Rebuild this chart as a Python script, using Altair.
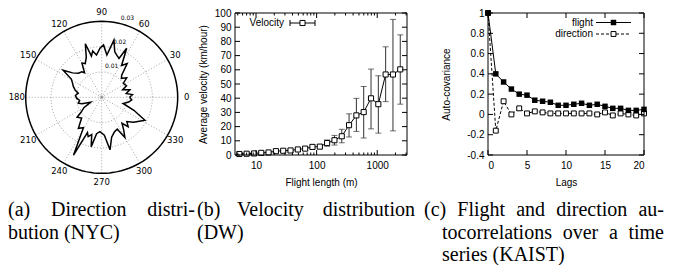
import altair as alt
import pandas as pd

# ---------------- (a) Direction distribution (NYC) ----------------
dir_angle = [0, 5, 9, 15, 20, 25, 33, 38, 44, 48, 53, 58, 63, 66, 70, 74, 78, 83, 88, 92,
             97, 101, 104, 107, 111, 116, 120, 125, 128, 134, 140, 145, 149, 154, 159, 165,
             170, 176, 182, 188, 194, 198, 204, 210, 216, 219, 226, 233, 239, 244, 248, 251,
             255, 258, 262, 267, 274, 279, 284, 290, 296, 300, 304, 308, 312, 316, 322, 332,
             338, 344, 350, 355]
dir_prob = [0.0110, 0.0122, 0.0098, 0.0115, 0.0088, 0.0108, 0.0102, 0.0125, 0.0108, 0.0118,
            0.0167, 0.0148, 0.0217, 0.0168, 0.0176, 0.0187, 0.0231, 0.0168, 0.0207, 0.0194,
            0.0168, 0.0186, 0.0168, 0.0221, 0.0170, 0.0148, 0.0156, 0.0118, 0.0128, 0.0132,
            0.0150, 0.0186, 0.0140, 0.0128, 0.0120, 0.0108, 0.0094, 0.0104, 0.0099, 0.0088,
            0.0095, 0.0082, 0.0048, 0.0080, 0.0101, 0.0125, 0.0114, 0.0153, 0.0140, 0.0254,
            0.0150, 0.0164, 0.0152, 0.0200, 0.0145, 0.0136, 0.0150, 0.0210, 0.0162, 0.0146,
            0.0140, 0.0183, 0.0155, 0.0130, 0.0156, 0.0138, 0.0160, 0.0193, 0.0137, 0.0088,
            0.0108, 0.0119]
angle_ticks = [0, 30, 60, 90, 120, 150, 180, 210, 240, 270, 300, 330]
radial_ticks = [0.01, 0.02, 0.03]

# ---------------- (b) Velocity distribution (DW) ----------------
flight_len = [5.3, 7.0, 9.3, 12.2, 16.1, 21.3, 28.1, 37.1, 49, 64.7, 85.4, 113, 149, 197,
              260, 343, 453, 598, 790, 1043, 1377, 1818, 2400]
velocity = [0.7, 0.9, 1.1, 1.5, 1.8, 2.7, 3.0, 3.2, 3.9, 4.5, 5.7, 5.9, 8.4, 10.4, 13.2,
            21.0, 27.9, 30.2, 39.9, 35.8, 56.7, 56.7, 60.3]
vel_lo = [0.3, 0.5, 0.6, 0.9, 1.1, 1.8, 2.0, 2.2, 2.7, 3.3, 4.4, 4.5, 6.2, 7.0, 8.6, 12.7,
          16.6, 12.0, 18.4, 15.4, 37.6, 17.0, 35.8]
vel_hi = [1.1, 1.3, 1.6, 2.1, 2.5, 3.6, 4.0, 4.2, 5.1, 5.7, 7.0, 7.3, 10.6, 13.8, 18.1, 29.0,
          39.9, 48.3, 60.5, 55.8, 76.2, 95.5, 84.6]
b_xmajor = [10, 100, 1000]
b_xminor = [5, 6, 7, 8, 9, 20, 30, 40, 50, 60, 70, 80, 90, 200, 300, 400, 500, 600, 700,
            800, 900, 2000, 3000]
b_yticks = [0, 10, 20, 30, 40, 50, 60, 70, 80, 90, 100]

# ---------------- (c) Autocovariance (KAIST) ----------------
lags = list(range(21))
flight_acov = [1.0, 0.40, 0.32, 0.25, 0.20, 0.19, 0.14, 0.13, 0.12, 0.09, 0.09, 0.10, 0.11,
               0.09, 0.10, 0.08, 0.06, 0.06, 0.04, 0.04, 0.05]
direction_acov = [1.0, -0.16, 0.13, 0.0, 0.06, 0.01, 0.03, 0.02, 0.01, 0.01, 0.01, 0.01,
                  0.01, 0.01, 0.0, 0.02, -0.01, 0.01, 0.0, -0.01, 0.01]
c_xticks = [0, 5, 10, 15, 20]
c_yticks = [-0.4, -0.2, 0, 0.2, 0.4, 0.6, 0.8, 1]

# ---------------- captions ----------------
cap_lines = [
    (["(a)", "Direction", "distri-"], 8, 195, 0),
    (["bution", "(NYC)"], 8, None, 1),
    (["(b)", "Velocity", "distribution"], 197, 415, 0),
    (["(DW)"], 197, None, 1),
    (["(c)", "Flight", "and", "direction", "au-"], 424, 664, 0),
    (["tocorrelations", "over", "a", "time"], 442, 664, 1),
    (["series", "(KAIST)"], 442, None, 2),
]

SANS = "Liberation Sans"
SERIF = "Liberation Serif"
MPL = "DejaVu Sans"
FS = 10
one = pd.DataFrame({"k": [0]})

# =============== panel (a): polar plot ===============
R = max(radial_ticks)
WA, HA = 186, 142
CX, CY = 93.7, 84.3
K = 76 / R
xa = alt.Scale(domain=[-CX / K, (WA - CX) / K], nice=False, zero=False)
ya = alt.Scale(domain=[-(HA - CY) / K, CY / K], nice=False, zero=False)


def XA(f):
    return alt.X(f, type="quantitative", scale=xa, axis=None)


def YA(f):
    return alt.Y(f, type="quantitative", scale=ya, axis=None)


spokes = alt.Chart(pd.DataFrame({"a": angle_ticks})).transform_calculate(
    px=f"{R}*cos(datum.a*PI/180)", py=f"{R}*sin(datum.a*PI/180)", ox="0", oy="0"
).mark_rule(color="#8a8a8a", strokeWidth=0.8, strokeDash=[1, 2]).encode(
    x=XA("ox"), y=YA("oy"), x2="px:Q", y2="py:Q")

grid_df = pd.DataFrame([(r, t) for r in radial_ticks for t in range(0, 361, 3)],
                       columns=["r", "t"])
grid_base = alt.Chart(grid_df).transform_calculate(
    px="datum.r*cos(datum.t*PI/180)", py="datum.r*sin(datum.t*PI/180)")
inner = grid_base.transform_filter(f"datum.r < {R}").mark_line(
    color="#8a8a8a", strokeWidth=0.8, strokeDash=[1, 2]).encode(
    x=XA("px"), y=YA("py"), detail="r:N", order="t:Q")
outer = grid_base.transform_filter(f"datum.r >= {R}").mark_line(
    color="black", strokeWidth=1.5).encode(x=XA("px"), y=YA("py"), order="t:Q")

dfa = pd.DataFrame({"ang": dir_angle + [dir_angle[0] + 360],
                    "p": dir_prob + [dir_prob[0]]})
shape = alt.Chart(dfa).transform_calculate(
    px="datum.p*cos(datum.ang*PI/180)", py="datum.p*sin(datum.ang*PI/180)"
).mark_line(color="black", strokeWidth=1.5).encode(x=XA("px"), y=YA("py"), order="ang:Q")

ang_lab = alt.Chart(pd.DataFrame({"a": angle_ticks})).transform_calculate(
    px=f"{R * 1.117}*cos(datum.a*PI/180)", py=f"{R * 1.117}*sin(datum.a*PI/180)"
).mark_text(font=MPL, fontSize=8.5, color="black").encode(
    x=XA("px"), y=YA("py"), text="a:Q")

rad_lab = alt.Chart(pd.DataFrame({"r": radial_ticks})).transform_calculate(
    px="(datum.r+0.0028)*cos(72*PI/180)", py="(datum.r+0.0028)*sin(72*PI/180)"
).mark_text(font=MPL, fontSize=6, color="black").encode(
    x=XA("px"), y=YA("py"), text=alt.Text("r:Q", format=".2f"))

center = alt.Chart(one).transform_calculate(ox="0", oy="0").mark_point(
    size=10, color="#8a8a8a", filled=False, strokeWidth=0.8).encode(x=XA("ox"), y=YA("oy"))

panel_a = alt.layer(spokes, inner, outer, shape, ang_lab, rad_lab, center).properties(
    width=WA, height=HA)

# =============== shared helpers for gnuplot-style frames ===============


def frame(W, H):
    return alt.Chart(one).mark_rect(fill="transparent", stroke="black", strokeWidth=1).encode(
        x=alt.value(0), x2=alt.value(W), y=alt.value(0), y2=alt.value(H))


def xtick_layers(vals, X, H, L):
    base = alt.Chart(pd.DataFrame({"t": vals})).mark_rule(color="black", strokeWidth=1)
    return [base.encode(x=X("t"), y=alt.value(H), y2=alt.value(H - L)),
            base.encode(x=X("t"), y=alt.value(0), y2=alt.value(L))]


def ytick_layers(vals, Y, W, L):
    base = alt.Chart(pd.DataFrame({"t": vals})).mark_rule(color="black", strokeWidth=1)
    return [base.encode(y=Y("t"), x=alt.value(0), x2=alt.value(L)),
            base.encode(y=Y("t"), x=alt.value(W), x2=alt.value(W - L))]


def axis(title, values, lp, tp, fmt=None, expr=None):
    kw = dict(values=values, title=title, ticks=False, tickSize=0, domain=False, grid=False,
              labelPadding=lp, titlePadding=tp, labelFont=SANS, labelFontSize=FS,
              titleFont=SANS, titleFontSize=FS, titleFontWeight="normal",
              labelColor="black", titleColor="black")
    if fmt:
        kw["format"] = fmt
    if expr:
        kw["labelExpr"] = expr
    return alt.Axis(**kw)


# =============== panel (b) ===============
WB, HB = 172, 142
xb = alt.Scale(type="log", domain=[4.5, 3100], nice=False)
yb = alt.Scale(domain=[0, 100], nice=False, zero=False)
axbx = axis("Flight length (m)", b_xmajor, 5, 7, fmt="d")
axby = axis("Average velocity (km/hour)", b_yticks, 4, 6)


def XB(f):
    return alt.X(f, type="quantitative", scale=xb, axis=axbx)


def YB(f):
    return alt.Y(f, type="quantitative", scale=yb, axis=axby)


dfb = pd.DataFrame({"len": flight_len, "v": velocity, "lo": vel_lo, "hi": vel_hi})
err = alt.Chart(dfb).mark_rule(color="#333333", strokeWidth=1).encode(
    x=XB("len"), y=YB("lo"), y2="hi:Q")
caps = alt.Chart(dfb).transform_fold(["lo", "hi"], as_=["end", "val"]).mark_tick(
    orient="horizontal", size=6, thickness=1, color="#333333").encode(x=XB("len"), y=YB("val"))
vline = alt.Chart(dfb).mark_line(color="black", strokeWidth=1).encode(x=XB("len"), y=YB("v"))
vpts = alt.Chart(dfb).mark_point(shape="square", size=26, filled=True, fill="white",
                                 stroke="black", strokeWidth=1, opacity=1).encode(
    x=XB("len"), y=YB("v"))

leg_b = [
    alt.Chart(one).mark_text(text="Velocity", align="right", baseline="middle", font=SANS,
                             fontSize=FS, color="black").encode(x=alt.value(49), y=alt.value(10)),
    alt.Chart(one).mark_rule(color="black").encode(x=alt.value(55), x2=alt.value(80), y=alt.value(10)),
    alt.Chart(one).mark_rule(color="black").encode(x=alt.value(55), y=alt.value(7), y2=alt.value(13)),
    alt.Chart(one).mark_rule(color="black").encode(x=alt.value(80), y=alt.value(7), y2=alt.value(13)),
    alt.Chart(one).mark_point(shape="square", size=26, filled=True, fill="white", stroke="black",
                              strokeWidth=1, opacity=1).encode(x=alt.value(67.5), y=alt.value(10)),
]

panel_b = alt.layer(
    err, caps, vline, vpts,
    *xtick_layers(b_xmajor, XB, HB, 5), *xtick_layers(b_xminor, XB, HB, 2.5),
    *ytick_layers(b_yticks, YB, WB, 5),
    frame(WB, HB), *leg_b
).properties(width=WB, height=HB)

# =============== panel (c) ===============
WC, HC = 156, 142
xc = alt.Scale(domain=[0, 20], nice=False, zero=False)
yc = alt.Scale(domain=[-0.4, 1], nice=False, zero=False)
axcx = axis("Lags", c_xticks, 5, 7)
axcy = axis("Auto-covariance", c_yticks, 4, 15, expr="'' + datum.value")


def XC(f):
    return alt.X(f, type="quantitative", scale=xc, axis=axcx)


def YC(f):
    return alt.Y(f, type="quantitative", scale=yc, axis=axcy)


dfc = pd.DataFrame({"lag": lags, "flight": flight_acov, "direction": direction_acov})
fl_line = alt.Chart(dfc).mark_line(color="black", strokeWidth=1).encode(x=XC("lag"), y=YC("flight"))
dr_line = alt.Chart(dfc).mark_line(color="black", strokeWidth=1, strokeDash=[3, 2]).encode(
    x=XC("lag"), y=YC("direction"))
fl_pts = alt.Chart(dfc).mark_point(shape="square", size=30, filled=True, color="black",
                                   opacity=1).encode(x=XC("lag"), y=YC("flight"))
dr_pts = alt.Chart(dfc).mark_point(shape="square", size=24, filled=True, fill="white",
                                   stroke="black", strokeWidth=1, opacity=1).encode(
    x=XC("lag"), y=YC("direction"))

leg_c = [
    alt.Chart(one).mark_text(text="flight", align="right", baseline="middle", font=SANS,
                             fontSize=FS, color="black").encode(x=alt.value(105), y=alt.value(9.5)),
    alt.Chart(one).mark_rule(color="black").encode(x=alt.value(108), x2=alt.value(143), y=alt.value(9.5)),
    alt.Chart(one).mark_point(shape="square", size=30, filled=True, color="black", opacity=1).encode(
        x=alt.value(125.5), y=alt.value(9.5)),
    alt.Chart(one).mark_text(text="direction", align="right", baseline="middle", font=SANS,
                             fontSize=FS, color="black").encode(x=alt.value(105), y=alt.value(21)),
    alt.Chart(one).mark_rule(color="black", strokeDash=[3, 2]).encode(
        x=alt.value(108), x2=alt.value(143), y=alt.value(21)),
    alt.Chart(one).mark_point(shape="square", size=24, filled=True, fill="white", stroke="black",
                              strokeWidth=1, opacity=1).encode(x=alt.value(125.5), y=alt.value(21)),
]

panel_c = alt.layer(
    dr_line, fl_line, dr_pts, fl_pts,
    *xtick_layers(c_xticks, XC, HC, 5), *ytick_layers(c_yticks, YC, WC, 5),
    frame(WC, HC), *leg_c
).properties(width=WC, height=HC)

# =============== captions ===============
TIMES = {"a": .444, "b": .5, "c": .444, "d": .5, "e": .444, "f": .333, "g": .5, "h": .5,
         "i": .278, "j": .278, "k": .5, "l": .278, "m": .778, "n": .5, "o": .5, "p": .5,
         "q": .5, "r": .333, "s": .389, "t": .278, "u": .5, "v": .5, "w": .722, "x": .5,
         "y": .5, "z": .444, "A": .722, "C": .667, "D": .722, "F": .556, "I": .333,
         "K": .722, "N": .722, "S": .556, "T": .611, "V": .722, "W": .944, "Y": .722,
         "(": .333, ")": .333, "-": .333, " ": .25}
CFS = 20
CAP_TOP = 187
cap_base = [216, 238.5, 261]


def tw(s):
    return CFS * sum(TIMES.get(ch, 0.5) for ch in s)


cap_layers = []
for words, x0, x1, line in cap_lines:
    y = cap_base[line] - CAP_TOP
    if x1 is None or len(words) == 1:
        xs, x = [], x0
        for w in words:
            xs.append(x)
            x += tw(w + " ")
    else:
        gap = (x1 - x0 - sum(tw(w) for w in words)) / (len(words) - 1)
        xs, x = [], x0
        for w in words:
            xs.append(x)
            x += tw(w) + gap
    for w, xx in zip(words, xs):
        cap_layers.append(alt.Chart(one).mark_text(
            text=w, align="left", baseline="alphabetic", font=SERIF, fontSize=CFS,
            color="black").encode(x=alt.value(xx - 8), y=alt.value(y)))

captions = alt.layer(*cap_layers).properties(width=650, height=40)

row = alt.hconcat(panel_a, alt.hconcat(panel_b, panel_c, spacing=33), spacing=4)
chart = alt.vconcat(row, captions, spacing=0).properties(padding=0).configure_view(
    strokeWidth=0).configure_concat(spacing=0)

chart.save("out.html", embed_options={"renderer": "svg", "actions": False})
